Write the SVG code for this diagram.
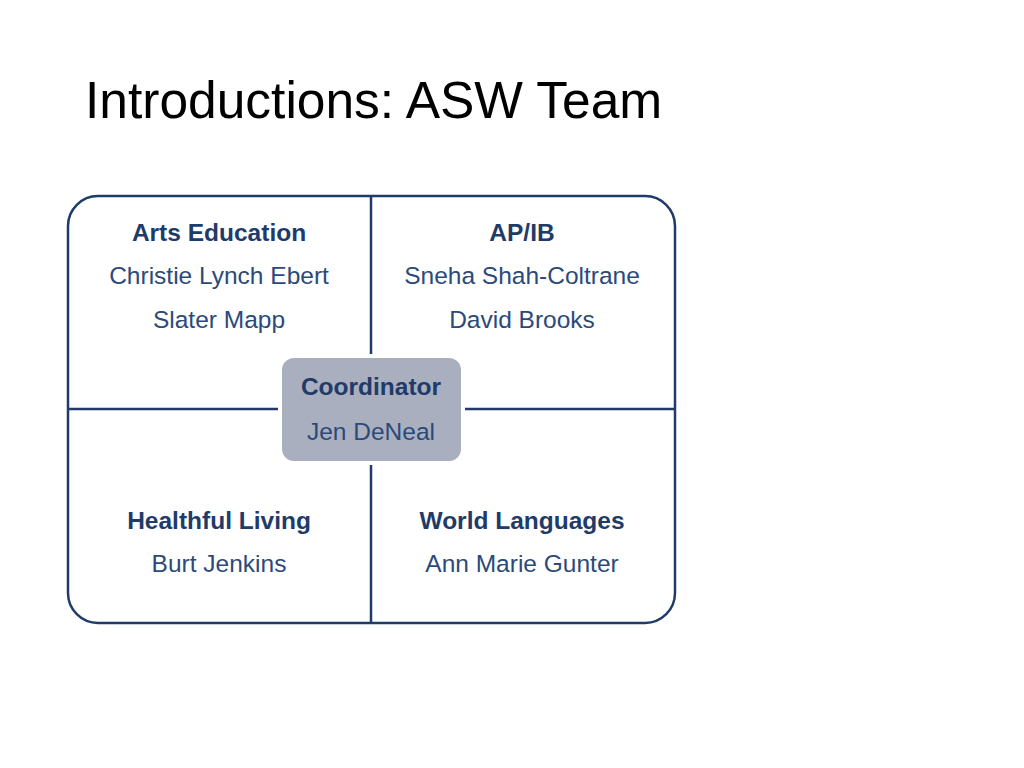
<svg xmlns="http://www.w3.org/2000/svg" width="1024" height="768" viewBox="0 0 1024 768">
<style>
.t{font-family:"Liberation Sans",Arial,sans-serif;text-anchor:middle;font-size:24.5px}
.h{font-weight:bold;fill:#1F3B6A}
.n{fill:#2B4A7A}
.ln{stroke:#1F3B6A;stroke-width:2.5;fill:none}
</style>
<rect width="1024" height="768" fill="#fff"/>
<text x="85" y="118" font-family="Liberation Sans,Arial,sans-serif" font-size="51.5" fill="#000">Introductions: ASW Team</text>
<g id="connectors">
<rect class="ln" x="68" y="196" width="607" height="427" rx="30"/>
<line class="ln" x1="371" y1="196" x2="371" y2="623"/>
<line class="ln" x1="68" y1="409" x2="675" y2="409"/>
</g>
<g id="arts">
<text class="t h" x="219" y="241">Arts Education</text>
<text class="t n" x="219" y="284">Christie Lynch Ebert</text>
<text class="t n" x="219" y="328">Slater Mapp</text>
</g>
<g id="apib">
<text class="t h" x="522" y="241">AP/IB</text>
<text class="t n" x="522" y="284">Sneha Shah-Coltrane</text>
<text class="t n" x="522" y="328">David Brooks</text>
</g>
<g id="healthful">
<text class="t h" x="219" y="529">Healthful Living</text>
<text class="t n" x="219" y="572">Burt Jenkins</text>
</g>
<g id="world">
<text class="t h" x="522" y="529">World Languages</text>
<text class="t n" x="522" y="572">Ann Marie Gunter</text>
</g>
<g id="coordinator">
<rect x="278" y="354" width="187" height="111" rx="15" fill="#fff"/>
<rect x="282" y="358" width="179" height="103" rx="12" fill="#A9AFBF"/>
<text class="t h" x="371" y="395">Coordinator</text>
<text class="t n" x="371" y="440">Jen DeNeal</text>
</g>
</svg>
